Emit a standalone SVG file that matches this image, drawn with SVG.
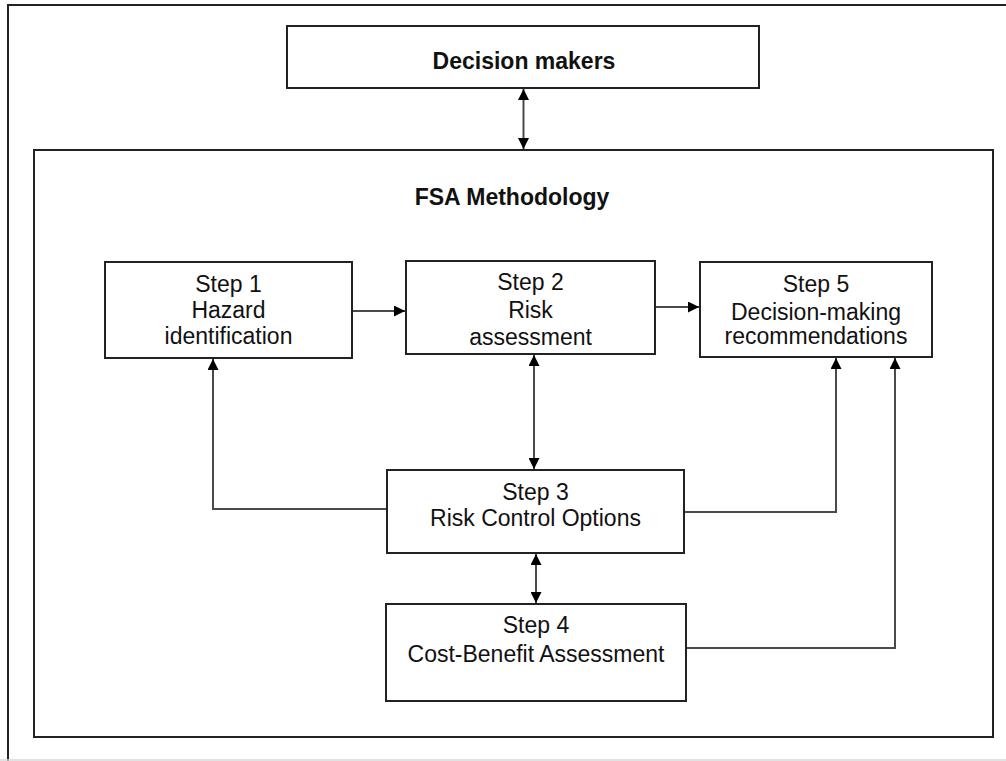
<svg xmlns="http://www.w3.org/2000/svg" width="1006" height="761" viewBox="0 0 1006 761">
  <style>
    .box { fill: #ffffff; stroke: #222222; stroke-width: 2; }
    .frame { fill: none; stroke: #222222; stroke-width: 2; }
    .conn { fill: none; stroke: #4a4a4a; stroke-width: 2; }
    .t { font-family: "Liberation Sans", Arial, sans-serif; font-size: 23px; fill: #111111; text-anchor: middle; }
    .b { font-weight: bold; }
  </style>
  <defs>
    <marker id="ah" viewBox="0 0 10 10" refX="10" refY="5" markerWidth="11" markerHeight="11" markerUnits="userSpaceOnUse" orient="auto-start-reverse">
      <path d="M0,0 L10,5 L0,10 Z" fill="#000000"/>
    </marker>
  </defs>
  <rect width="1006" height="761" fill="#ffffff"/>
  <g id="outer-frame">
    <path d="M8,761 L8,5 L1006,5" class="frame"/>
    <line x1="0" y1="760" x2="1006" y2="760" stroke="#d8d8d8" stroke-width="1.5"/>
  </g>
  <g id="fsa-methodology">
    <rect x="34" y="150" width="959" height="587" class="box"/>
    <text x="512" y="205" class="t b">FSA Methodology</text>
  </g>
  <g id="decision-makers">
    <rect x="287" y="26" width="472" height="62" class="box"/>
    <text x="524" y="69" class="t b">Decision makers</text>
  </g>
  <g id="step1">
    <rect x="105" y="262" width="247" height="96" class="box"/>
    <text x="228.5" y="292" class="t">Step 1</text>
    <text x="228.5" y="318" class="t">Hazard</text>
    <text x="228.5" y="344" class="t">identification</text>
  </g>
  <g id="step2">
    <rect x="406" y="261" width="249" height="93" class="box"/>
    <text x="530.5" y="290" class="t">Step 2</text>
    <text x="530.5" y="318" class="t">Risk</text>
    <text x="530.5" y="345" class="t">assessment</text>
  </g>
  <g id="step5">
    <rect x="700" y="262" width="232" height="95" class="box"/>
    <text x="816" y="292" class="t">Step 5</text>
    <text x="816" y="320" class="t">Decision-making</text>
    <text x="816" y="344" class="t">recommendations</text>
  </g>
  <g id="step3">
    <rect x="387" y="470" width="297" height="83" class="box"/>
    <text x="535.5" y="500" class="t">Step 3</text>
    <text x="535.5" y="526" class="t">Risk Control Options</text>
  </g>
  <g id="step4">
    <rect x="386" y="604" width="300" height="97" class="box"/>
    <text x="536" y="633" class="t">Step 4</text>
    <text x="536" y="662" class="t">Cost-Benefit Assessment</text>
  </g>
  <g id="connectors">
    <line x1="523.5" y1="89" x2="523.5" y2="149" class="conn" marker-start="url(#ah)" marker-end="url(#ah)"/>
    <line x1="353" y1="311" x2="405" y2="311" class="conn" marker-end="url(#ah)"/>
    <line x1="656" y1="307" x2="699" y2="307" class="conn" marker-end="url(#ah)"/>
    <line x1="534" y1="355" x2="534" y2="469" class="conn" marker-start="url(#ah)" marker-end="url(#ah)"/>
    <polyline points="386,509 213,509 213,359" class="conn" marker-end="url(#ah)"/>
    <polyline points="685,512 836,512 836,358" class="conn" marker-end="url(#ah)"/>
    <line x1="536" y1="554" x2="536" y2="603" class="conn" marker-start="url(#ah)" marker-end="url(#ah)"/>
    <polyline points="687,648 895,648 895,358" class="conn" marker-end="url(#ah)"/>
  </g>
</svg>
